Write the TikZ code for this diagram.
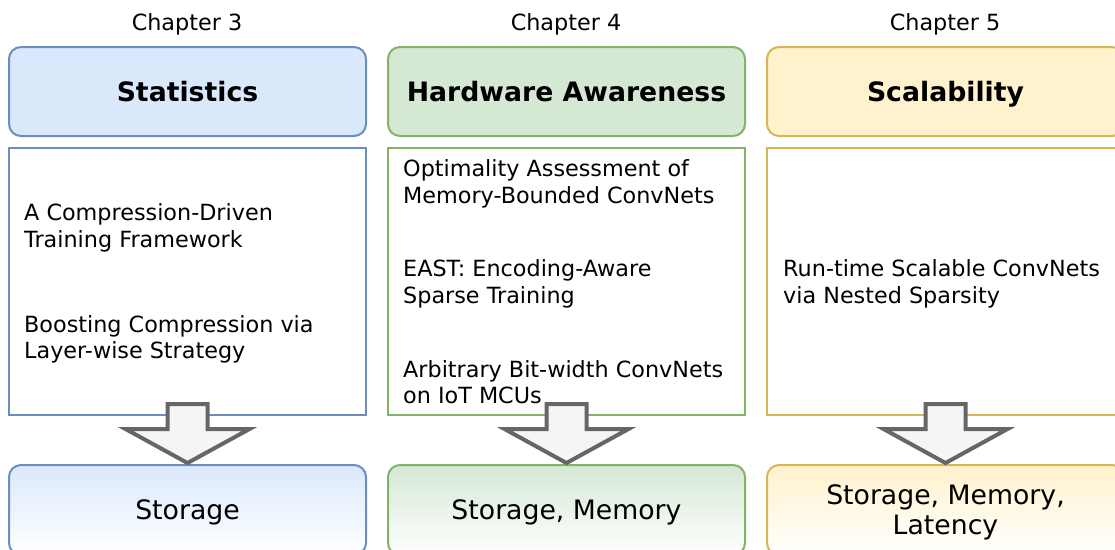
\documentclass[tikz,border=0pt]{standalone}
\usepackage{fontspec}
\setmainfont{DejaVu Sans}
\usetikzlibrary{calc}

\definecolor{blueF}{HTML}{DAE8FC}
\definecolor{blueS}{HTML}{6C8EBF}
\definecolor{greenF}{HTML}{D5E8D4}
\definecolor{greenS}{HTML}{82B366}
\definecolor{yellowF}{HTML}{FFF2CC}
\definecolor{yellowS}{HTML}{D6B656}
\definecolor{arrowF}{HTML}{F5F5F5}
\definecolor{arrowS}{HTML}{666666}

\tikzset{
  chap/.style={font=\fontsize{22.3}{26.8}\selectfont, inner sep=0pt, anchor=base},
  headbox/.style={draw, rounded corners=12pt, line width=2pt, anchor=north west,
    minimum width=357pt, minimum height=89pt, inner sep=0pt, outer sep=0pt,
    text height=22pt, text depth=1.6pt,
    font=\fontsize{26.7}{32}\selectfont\bfseries},
  bodybox/.style={draw, line width=2pt, anchor=north west, fill=white,
    minimum width=357pt, minimum height=267pt, inner sep=0pt, outer sep=0pt},
  resultbox/.style={draw, rounded corners=12pt, line width=2pt, anchor=north west,
    minimum width=357pt, minimum height=90pt, inner sep=0pt, outer sep=0pt,
    align=center, font=\fontsize{26.7}{30}\selectfont},
  item/.style={anchor=base west, align=left, inner sep=0pt,
    font=\fontsize{22.3}{26.7}\selectfont},
  blockarrow/.style={draw=arrowS, fill=arrowF, line width=4pt, line join=miter},
  bigarrow/.pic={
    \path[blockarrow] (-20,0) -- (20,0) -- (20,25) -- (62,25) -- (0,59)
      -- (-62,25) -- (-20,25) -- cycle;
  }
}

\begin{document}
\begin{tikzpicture}[x=1pt,y=-1pt]
\useasboundingbox (0,0) rectangle (1115,549);

% chapter labels
\node[chap] (ch3) at (187,30) {Chapter 3};
\node[chap] (ch4) at (566,30) {Chapter 4};
\node[chap] (ch5) at (945,30) {Chapter 5};

% header boxes
\node[headbox, fill=blueF, draw=blueS]     (h1) at (9,47)   {Statistics};
\node[headbox, fill=greenF, draw=greenS]   (h2) at (388,47) {Hardware Awareness};
\node[headbox, fill=yellowF, draw=yellowS] (h3) at (767,47) {Scalability};

% content boxes
\node[bodybox, draw=blueS]   (b1) at (9,148)   {};
\node[bodybox, draw=greenS]  (b2) at (388,148) {};
\node[bodybox, draw=yellowS] (b3) at (767,148) {};

% content entries (placed by the baseline of their last line)
\node[item] (t11) at (24,247)    {A Compression-Driven\\Training Framework};
\node[item] (t12) at (24,358.7)  {Boosting Compression via\\Layer-wise Strategy};
\node[item] (t21) at (403,203.4) {Optimality Assessment of\\Memory-Bounded ConvNets};
\node[item] (t22) at (403,303.2) {EAST: Encoding-Aware\\Sparse Training};
\node[item] (t23) at (403,403.8) {Arbitrary Bit-width ConvNets\\on IoT MCUs};
\node[item] (t31) at (783,303.2) {Run-time Scalable ConvNets\\via Nested Sparsity};

% result boxes
\node[resultbox, draw=blueS, top color=blueF, bottom color=white,
      text height=20pt, text depth=1.4pt]     (r1) at (9,465)   {Storage};
\node[resultbox, draw=greenS, top color=greenF, bottom color=white,
      text height=20pt, text depth=1.4pt]   (r2) at (388,465) {Storage, Memory};
\node[resultbox, draw=yellowS, top color=yellowF, bottom color=white,
      text depth=1pt] (r3) at (767,465) {Storage, Memory,\\Latency};

% block arrows from each column to its result
\pic at ($(b1.south)+(0,-11)$) {bigarrow};
\pic at ($(b2.south)+(0,-11)$) {bigarrow};
\pic at ($(b3.south)+(0,-11)$) {bigarrow};
\end{tikzpicture}
\end{document}
